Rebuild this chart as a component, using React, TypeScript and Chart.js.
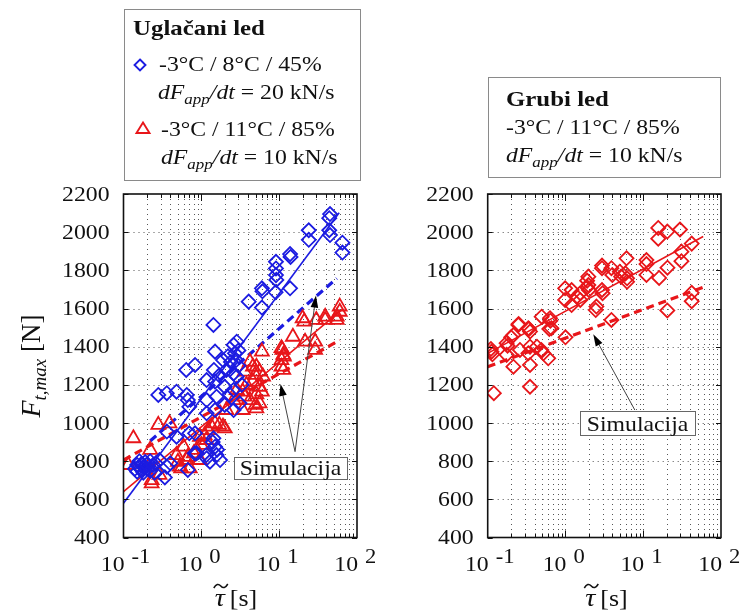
import React, { useEffect, useRef } from 'react';
import { Chart, registerables } from 'chart.js';
Chart.register(...registerables);

// ---------- data ----------
// Left panel (Uglačani led) – blue diamonds: -3°C / 8°C / 45%
const smoothBlueTau = [
  44, 45, 44, 45, 24, 24, 65, 65, 13.8, 14, 9.1, 9.1, 9.1, 9.2, 6, 6.1, 13.8, 9, 6, 4.06,
  1.43, 2.6, 2.85, 2.7, 2.8, 1.5, 1.9, 0.83, 0.64, 1.45, 2.1, 2.6, 2.85, 1.17, 1.5, 2.0, 2.6, 1.17, 1.57, 3.1,
  2.0, 2.6, 1.5, 1.17, 0.48, 0.36, 0.28, 0.65, 0.67, 0.7, 2.4, 3.0, 2.2, 3.0, 2.3, 3.3, 1.7, 0.36, 0.48, 0.7,
  0.83, 0.87, 1.17, 1.43, 1.5, 1.57, 1.29, 1.74, 1.4, 1.6, 0.82, 1.16, 0.67, 0.34, 0.36, 0.26, 0.29, 0.4,
  0.14, 0.15, 0.15, 0.16, 0.16, 0.17, 0.17, 0.18, 0.18, 0.19, 0.2, 0.2, 0.22, 0.22, 0.24, 0.25,
];
const smoothBlueForce = [
  2073, 2095, 2010, 1985, 2010, 1960, 1945, 1893, 1885, 1870, 1845, 1810, 1775, 1750, 1706, 1690, 1706, 1685, 1605, 1636,
  1514, 1409, 1426, 1365, 1330, 1374, 1330, 1304, 1278, 1278, 1278, 1260, 1243, 1225, 1217, 1190, 1173, 1120, 1138, 1103,
  1095, 1068, 1068, 1051, 1164, 1156, 1147, 1147, 1120, 1085, 1320, 1380, 1350, 1300, 1150, 1200, 1250, 955, 928, 946,
  946, 841, 815, 920, 876, 832, 797, 806, 900, 860, 841, 832, 754, 715, 771, 789, 806, 789,
  760, 745, 780, 770, 800, 755, 785, 740, 770, 795, 760, 780, 750, 800, 780, 740,
];
// Left panel – red triangles: -3°C / 11°C / 85%
const smoothRedTau = [
  60, 60, 55, 55, 39, 39, 30, 20, 21, 29, 29, 21.5, 15, 10.7, 11.3, 10.7, 10.7, 11.3, 11, 11.5,
  6, 5.1, 5.6, 4.9, 6.2, 4.6, 5.6, 6, 3.6, 3.8, 4.2, 4.6, 2.85, 3.4, 2.6, 4.2, 5, 3.4, 5.6, 5.1,
  5.1, 3.6, 2.1, 1.5, 1.9, 2.0, 1.7, 1.35, 1.1, 1.16, 0.96, 1.22, 1.0, 0.87, 0.96, 0.65, 0.71, 0.53, 0.59, 0.48,
  0.5, 0.67, 0.55, 0.28, 0.39, 0.134, 0.22, 0.115, 0.21, 0.23, 0.23, 0.29, 0.8,
];
const smoothRedForce = [
  1610, 1583, 1557, 1540, 1557, 1540, 1540, 1549, 1531, 1426, 1383, 1426, 1452, 1392, 1357, 1330, 1295, 1278, 1383, 1348,
  1374, 1295, 1269, 1252, 1243, 1217, 1190, 1164, 1269, 1200, 1321, 1295, 1173, 1164, 1120, 1120, 1095, 1068, 1103, 1150,
  1077, 1138, 1068, 998, 981, 972, 990, 981, 937, 911, 928, 963, 885, 859, 806, 806, 762, 771, 876, 832,
  797, 823, 762, 990, 998, 920, 859, 780, 771, 701, 684, 728, 841,
];
// Right panel (Grubi led) – red diamonds: -3°C / 11°C / 85%
const roughRedTau = [
  0.12, 0.35, 0.112, 0.115, 0.11, 0.175, 0.214, 0.175, 0.214, 0.26, 0.248, 0.333, 0.35, 0.35, 0.333, 0.35, 0.494, 0.633, 0.66, 0.49,
  0.52, 0.6, 0.43, 0.25, 0.34, 0.2, 0.18, 0.64, 0.62, 0.99, 0.99, 1.2, 1.55, 1.55, 1.4, 1.2, 1.0, 1.97, 1.97, 2.0,
  2.5, 2.45, 2.95, 3.0, 2.95, 2.95, 3.9, 4.0, 5.0, 5.2, 6.2, 5.9, 6.1, 6.2, 3.9, 11, 11, 11, 15.6, 15.6,
  20.4, 29.7, 16, 20.5, 20.4, 31, 31, 42, 42, 42, 1.9, 1.9,
];
const roughRedForce = [
  1156, 1190, 1374, 1360, 1388, 1418, 1461, 1357, 1295, 1383, 1514, 1496, 1479, 1400, 1365, 1304, 1557, 1549, 1496, 1383,
  1365, 1339, 1400, 1519, 1493, 1449, 1405, 1536, 1493, 1706, 1645, 1697, 1680, 1645, 1662, 1618, 1449, 1767, 1723, 1697,
  1610, 1592, 1697, 1680, 1811, 1825, 1811, 1776, 1793, 1767, 1758, 1784, 1863, 1740, 1540, 1854, 1833, 1776, 2022, 1966,
  2003, 2014, 1760, 1814, 1590, 1898, 1848, 1940, 1682, 1638, 1746, 1711,
];

// Fitted (solid) and simulated (dashed) lines, end points
const blueFitTau = [0.1, 59];
const blueFitForce = [580, 2102];
const blueSimTau = [0.22, 55];
const blueSimForce = [906, 1758];
const redFitTau = [0.1, 66];
const redFitForce = [640, 1598];
const redSimTau = [0.1, 60];
const redSimForce = [806, 1434];
const roughFitTau = [0.1, 59];
const roughFitForce = [1365, 1977];
const roughSimTau = [0.1, 62];
const roughSimForce = [1295, 1714];

// Axes
const yTickValues = [400, 600, 800, 1000, 1200, 1400, 1600, 1800, 2000, 2200];
const xTickExponents = [-1, 0, 1, 2];

// ---------- styling ----------
const FONT = '"Liberation Serif", "Times New Roman", Times, serif';
const SX = 1.13;
const BLUE = 'rgb(28,28,225)';
const RED = 'rgb(232,22,26)';
const PLOT_TOP = 194;
const PLOT_BOTTOM = 537.5;
const PAGE_H = 615;

const pts = (t: number[], f: number[]) => t.map((x, i) => ({ x, y: f[i] }));

function sText(ctx: CanvasRenderingContext2D, text: string, x: number, y: number, align: string, font: string, sx = SX) {
  ctx.save();
  ctx.font = font;
  const w = ctx.measureText(text).width * sx;
  const x0 = align === 'right' ? x - w : align === 'center' ? x - w / 2 : x;
  ctx.translate(x0, y);
  ctx.scale(sx, 1);
  ctx.textAlign = 'left';
  ctx.fillText(text, 0, 0);
  ctx.restore();
  return w;
}

type Box = { t0: number; t1: number; f0: number; f1: number };
type Arrow = { t0: number; f0: number; t1: number; f1: number };

function makePlugin(cfg: { box: Box; arrows: Arrow[]; xTitleCenter: number; yTitle: boolean }) {
  return {
    id: 'panelDecor',
    beforeDatasetsDraw(chart: any) {
      const ctx: CanvasRenderingContext2D = chart.ctx;
      const { left, right, top, bottom } = chart.chartArea;
      const xs = chart.scales.x;
      const ys = chart.scales.y;
      ctx.save();
      ctx.fillStyle = '#fff';
      ctx.fillRect(left, top, right - left, bottom - top);
      ctx.strokeStyle = '#555';
      ctx.lineWidth = 1;
      ctx.setLineDash([1, 4]);
      for (const d of [0.1, 1, 10]) {
        for (let m = 1; m <= 9; m++) {
          const v = m * d;
          if (v <= 0.1 || v >= 100) continue;
          const px = Math.round(xs.getPixelForValue(v)) + 0.5;
          ctx.beginPath();
          ctx.moveTo(px, top);
          ctx.lineTo(px, bottom);
          ctx.stroke();
        }
      }
      for (const v of yTickValues) {
        if (v <= 400 || v >= 2200) continue;
        const py = Math.round(ys.getPixelForValue(v)) + 0.5;
        ctx.beginPath();
        ctx.moveTo(left, py);
        ctx.lineTo(right, py);
        ctx.stroke();
      }
      ctx.restore();
    },
    afterDatasetsDraw(chart: any) {
      const ctx: CanvasRenderingContext2D = chart.ctx;
      const { left, right, top, bottom } = chart.chartArea;
      const xs = chart.scales.x;
      const ys = chart.scales.y;
      ctx.save();
      // tick marks
      ctx.strokeStyle = '#111';
      ctx.lineWidth = 1;
      for (const d of [0.1, 1, 10]) {
        for (let m = 1; m <= 9; m++) {
          const v = m * d;
          if (v <= 0.1 || v >= 100) continue;
          const px = Math.round(xs.getPixelForValue(v)) + 0.5;
          const len = m === 1 ? 7 : 4;
          ctx.beginPath();
          ctx.moveTo(px, top);
          ctx.lineTo(px, top + len);
          ctx.moveTo(px, bottom);
          ctx.lineTo(px, bottom - len);
          ctx.stroke();
        }
      }
      for (const v of yTickValues) {
        const py = Math.round(ys.getPixelForValue(v)) + 0.5;
        ctx.beginPath();
        ctx.moveTo(left, py);
        ctx.lineTo(left + 5, py);
        ctx.moveTo(right, py);
        ctx.lineTo(right - 5, py);
        ctx.stroke();
      }
      // frame
      ctx.lineWidth = 1.6;
      ctx.strokeRect(left, top, right - left, bottom - top);

      // Simulacija annotation
      const b = cfg.box;
      const bx0 = xs.getPixelForValue(b.t0);
      const bx1 = xs.getPixelForValue(b.t1);
      const by0 = ys.getPixelForValue(b.f1);
      const by1 = ys.getPixelForValue(b.f0);
      ctx.strokeStyle = '#444';
      ctx.lineWidth = 1;
      for (const a of cfg.arrows) {
        const x0 = xs.getPixelForValue(a.t0);
        const y0 = ys.getPixelForValue(a.f0);
        const x1 = xs.getPixelForValue(a.t1);
        const y1 = ys.getPixelForValue(a.f1);
        const ang = Math.atan2(y1 - y0, x1 - x0);
        const hl = 12;
        const hw = 3.8;
        ctx.beginPath();
        ctx.moveTo(x0, y0);
        ctx.lineTo(x1 - Math.cos(ang) * hl * 0.8, y1 - Math.sin(ang) * hl * 0.8);
        ctx.stroke();
        ctx.fillStyle = '#000';
        ctx.beginPath();
        ctx.moveTo(x1, y1);
        ctx.lineTo(x1 - Math.cos(ang) * hl - Math.sin(ang) * hw, y1 - Math.sin(ang) * hl + Math.cos(ang) * hw);
        ctx.lineTo(x1 - Math.cos(ang) * hl + Math.sin(ang) * hw, y1 - Math.sin(ang) * hl - Math.cos(ang) * hw);
        ctx.closePath();
        ctx.fill();
      }
      ctx.fillStyle = '#fff';
      ctx.fillRect(bx0, by0, bx1 - bx0, by1 - by0);
      ctx.strokeStyle = '#666';
      ctx.lineWidth = 1;
      ctx.strokeRect(Math.round(bx0) + 0.5, Math.round(by0) + 0.5, Math.round(bx1 - bx0), Math.round(by1 - by0));
      ctx.fillStyle = '#111';
      ctx.textBaseline = 'alphabetic';
      sText(ctx, 'Simulacija', (bx0 + bx1) / 2, by1 - 4, 'center', `21px ${FONT}`);
      ctx.restore();
    },
    afterDraw(chart: any) {
      const ctx: CanvasRenderingContext2D = chart.ctx;
      const { left, bottom } = chart.chartArea;
      const xs = chart.scales.x;
      const ys = chart.scales.y;
      ctx.save();
      ctx.fillStyle = '#111';
      // y tick labels
      ctx.textBaseline = 'middle';
      for (const v of yTickValues) {
        sText(ctx, String(v), left - 14, ys.getPixelForValue(v) + 1, 'right', `21px ${FONT}`);
      }
      // x tick labels 10^n
      ctx.textBaseline = 'alphabetic';
      for (const e of xTickExponents) {
        const px = xs.getPixelForValue(Math.pow(10, e));
        sText(ctx, '10', px + 1, bottom + 33, 'right', `21px ${FONT}`);
        sText(ctx, e < 0 ? '-' + String(-e) : String(e), px + 8, bottom + 25, 'left', `20px ${FONT}`);
      }
      // x title: tau-tilde [s]
      ctx.font = `italic 25px ${FONT}`;
      const tauW = ctx.measureText('τ').width * SX;
      ctx.font = `23px ${FONT}`;
      const sW = ctx.measureText('[s]').width * SX;
      const gap = 5;
      const total = tauW + gap + sW;
      const x0 = cfg.xTitleCenter - total / 2;
      const base = 606;
      sText(ctx, 'τ', x0, base, 'left', `italic 25px ${FONT}`);
      sText(ctx, '[s]', x0 + tauW + gap, base, 'left', `23px ${FONT}`);
      const tx = x0 + tauW / 2 + 1;
      const ty = 586;
      ctx.strokeStyle = '#111';
      ctx.lineWidth = 1.5;
      ctx.beginPath();
      ctx.moveTo(tx - 7, ty + 2);
      ctx.quadraticCurveTo(tx - 3.5, ty - 4, tx, ty);
      ctx.quadraticCurveTo(tx + 3.5, ty + 4, tx + 7, ty - 2);
      ctx.stroke();
      // y title
      if (cfg.yTitle) {
        ctx.translate(40, 366);
        ctx.rotate(-Math.PI / 2);
        ctx.font = `italic 28px ${FONT}`;
        const fW = ctx.measureText('F').width;
        ctx.font = `italic 19px ${FONT}`;
        const subW = ctx.measureText('t,max').width;
        ctx.font = `27px ${FONT}`;
        const nW = ctx.measureText(' [N]').width;
        const tot = fW + subW + nW;
        let cx = -tot / 2;
        ctx.font = `italic 28px ${FONT}`;
        ctx.fillText('F', cx, 0);
        cx += fW;
        ctx.font = `italic 19px ${FONT}`;
        ctx.fillText('t,max', cx, 6);
        cx += subW;
        ctx.font = `27px ${FONT}`;
        ctx.fillText(' [N]', cx, 0);
      }
      ctx.restore();
    },
  };
}

type PanelProps = {
  pageLeft: number;
  width: number;
  plotLeft: number;
  plotRight: number;
  datasets: any[];
  box: Box;
  arrows: Arrow[];
  xTitleCenter: number;
  yTitle: boolean;
};

function Panel(p: PanelProps) {
  const ref = useRef<HTMLCanvasElement | null>(null);
  useEffect(() => {
    if (!ref.current) return;
    const chart = new Chart(ref.current, {
      type: 'scatter',
      data: { datasets: p.datasets },
      options: {
        responsive: false,
        animation: false,
        events: [],
        layout: { padding: { top: PLOT_TOP, right: p.width - p.plotRight, left: 0, bottom: 0 } },
        plugins: { legend: { display: false }, tooltip: { enabled: false }, title: { display: false } },
        scales: {
          x: {
            type: 'logarithmic',
            min: 0.1,
            max: 100,
            ticks: { display: false },
            grid: { display: false },
            border: { display: false },
            afterFit: (s: any) => {
              s.height = PAGE_H - PLOT_BOTTOM;
            },
          },
          y: {
            type: 'linear',
            min: 400,
            max: 2200,
            ticks: { display: false },
            grid: { display: false },
            border: { display: false },
            afterFit: (s: any) => {
              s.width = p.plotLeft;
            },
          },
        },
      } as any,
      plugins: [makePlugin({ box: p.box, arrows: p.arrows, xTitleCenter: p.xTitleCenter, yTitle: p.yTitle }) as any],
    });
    return () => chart.destroy();
  }, []);
  return (
    <canvas
      ref={ref}
      width={p.width}
      height={PAGE_H}
      style={{ position: 'absolute', left: p.pageLeft, top: 0, width: p.width, height: PAGE_H, display: 'block' }}
    />
  );
}

const scatterSet = (data: any[], color: string, style: string, radius: number) => ({
  data,
  showLine: false,
  pointStyle: style,
  pointRadius: radius,
  pointBorderColor: color,
  pointBackgroundColor: 'rgba(0,0,0,0)',
  pointBorderWidth: 1.8,
});
const lineSet = (data: any[], color: string, dashed: boolean) => ({
  data,
  showLine: true,
  pointRadius: 0,
  borderColor: color,
  borderWidth: dashed ? 3.2 : 1.6,
  borderDash: dashed ? [8, 5] : [],
});

function Line({ left, baseline, bold, children }: { left: number; baseline: number; bold?: boolean; children: any }) {
  return (
    <div
      style={{
        position: 'absolute',
        left,
        top: baseline - 17.6,
        fontFamily: FONT,
        fontSize: bold ? 22 : 21,
        lineHeight: '21px',
        fontWeight: bold ? 'bold' : 'normal',
        whiteSpace: 'nowrap',
        transform: `scaleX(${SX})`,
        transformOrigin: '0 0',
        color: '#111',
      }}
    >
      {children}
    </div>
  );
}

const Rate = ({ v }: { v: number }) => (
  <>
    <i>dF</i>
    <i style={{ fontSize: 15, position: 'relative', top: 5 }}>app</i>
    <i>/dt</i> = {v} kN/s
  </>
);

export default function App() {
  const leftSets = [
    scatterSet(pts(smoothBlueTau, smoothBlueForce), BLUE, 'rectRot', 7),
    scatterSet(pts(smoothRedTau, smoothRedForce), RED, 'triangle', 8),
    lineSet(pts(blueFitTau, blueFitForce), BLUE, false),
    lineSet(pts(blueSimTau, blueSimForce), BLUE, true),
    lineSet(pts(redFitTau, redFitForce), RED, false),
    lineSet(pts(redSimTau, redSimForce), RED, true),
  ];
  const rightSets = [
    scatterSet(pts(roughRedTau, roughRedForce), RED, 'rectRot', 7),
    lineSet(pts(roughFitTau, roughFitForce), RED, false),
    lineSet(pts(roughSimTau, roughSimForce), RED, true),
  ];
  return (
    <div style={{ position: 'absolute', left: 0, top: 0, width: 749, height: 615, background: '#fff', overflow: 'hidden' }}>
      <Panel
        pageLeft={0}
        width={375}
        plotLeft={123.5}
        plotRight={357}
        datasets={leftSets}
        box={{ t0: 2.63, t1: 74.5, f0: 705, f1: 820 }}
        arrows={[
          { t0: 16, f0: 850, t1: 10.4, f1: 1205 },
          { t0: 16, f0: 850, t1: 29.7, f1: 1668 },
        ]}
        xTitleCenter={236}
        yTitle={true}
      />
      <Panel
        pageLeft={375}
        width={374}
        plotLeft={112.7}
        plotRight={346}
        datasets={rightSets}
        box={{ t0: 1.54, t1: 46.3, f0: 937, f1: 1064 }}
        arrows={[{ t0: 7.8, f0: 1068, t1: 2.28, f1: 1465 }]}
        xTitleCenter={231.5}
        yTitle={false}
      />
      {/* Legend: left panel */}
      <div style={{ position: 'absolute', left: 124, top: 9, width: 235, height: 170, border: '1px solid #8a8a8a' }} />
      <Line left={133} baseline={35} bold>
        Uglačani led
      </Line>
      <svg style={{ position: 'absolute', left: 0, top: 0 }} width={360} height={180}>
        <polygon points="140,59.5 145.5,65 140,70.5 134.5,65" fill="none" stroke={BLUE} strokeWidth={1.9} />
        <polygon points="143,122.5 149.5,133 136.5,133" fill="none" stroke={RED} strokeWidth={1.9} />
      </svg>
      <Line left={159} baseline={72}>
        -3°C / 8°C / 45%
      </Line>
      <Line left={158} baseline={100}>
        <Rate v={20} />
      </Line>
      <Line left={161} baseline={137}>
        -3°C / 11°C / 85%
      </Line>
      <Line left={161} baseline={165}>
        <Rate v={10} />
      </Line>
      {/* Legend: right panel */}
      <div style={{ position: 'absolute', left: 488, top: 77, width: 231, height: 99, border: '1px solid #8a8a8a' }} />
      <Line left={506} baseline={106} bold>
        Grubi led
      </Line>
      <Line left={506} baseline={135}>
        -3°C / 11°C / 85%
      </Line>
      <Line left={506} baseline={163}>
        <Rate v={10} />
      </Line>
    </div>
  );
}
